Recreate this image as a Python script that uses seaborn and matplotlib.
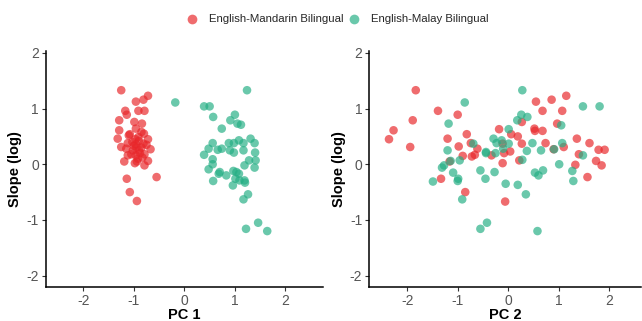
import numpy as np
import pandas as pd
import matplotlib
matplotlib.use("Agg")
import matplotlib.pyplot as plt
import seaborn as sns
from matplotlib.lines import Line2D

groups = ["English-Mandarin Bilingual", "English-Malay Bilingual"]
colors = ["#E8262A", "#24AE84"]

# Panel 1: PC 1 vs slope
pc1_mandarin = [-1.25, -0.72, -0.81, -0.96, -1.17, -1.14, -0.91, -0.79, -1.29, -0.99,
                -0.84, -1.29, -0.96, -1.08, -0.85, -1.32, -0.91, -0.72, -1.12, -1.25,
                -0.96, -0.81, -1.02, -0.90, -0.67, -1.12, -0.96, -0.79, -1.19, -0.94,
                -0.72, -0.79, -1.14, -0.55, -1.08, -0.94,
                -0.90, -1.00, -0.85, -1.05, -0.92, -0.80, -1.15, -0.97, -0.88, -1.03,
                -0.95, -0.83, -1.10, -0.75, -0.98]
slope1_mandarin = [1.33, 1.23, 1.16, 1.125, 0.96, 0.89, 0.96, 0.96, 0.79, 0.76,
                   0.73, 0.61, 0.64, 0.54, 0.58, 0.46, 0.49, 0.45, 0.38, 0.31,
                   0.36, 0.37, 0.25, 0.25, 0.27, 0.16, 0.16, 0.18, 0.05, 0.05,
                   0.06, -0.02, -0.26, -0.23, -0.50, -0.66,
                   0.42, 0.33, 0.30, 0.18, 0.10, 0.55, 0.28, 0.45, 0.20, 0.40,
                   0.30, 0.12, 0.52, 0.35, 0.02]
pc1_malay = [-0.18, 1.24, 0.39, 0.50, 0.57, 1.00, 0.91, 1.05, 1.12, 0.74,
             1.31, 1.08, 0.88, 0.56, 1.39, 1.17, 0.98, 0.48, 0.66, 0.74,
             0.90, 0.98, 1.17, 1.40, 0.39, 0.56, 0.56, 1.28, 1.41, 1.19,
             1.39, 0.48, 0.70, 0.68, 0.83, 0.97, 1.03, 1.08, 1.01, 1.09,
             1.20, 1.19, 0.96, 0.57, 1.26, 1.17, 1.22, 1.46, 1.64]
slope1_malay = [1.11, 1.33, 1.04, 1.04, 0.85, 0.89, 0.79, 0.73, 0.71, 0.64,
                0.46, 0.43, 0.38, 0.38, 0.38, 0.38, 0.38, 0.28, 0.26, 0.28,
                0.25, 0.21, 0.25, 0.21, 0.17, 0.09, 0.00, 0.07, 0.07, -0.02,
                -0.06, -0.09, -0.14, -0.17, -0.20, -0.12, -0.14, -0.17, -0.26, -0.29,
                -0.33, -0.29, -0.38, -0.30, -0.54, -0.63, -1.16, -1.05, -1.20]

# Panel 2: PC 2 vs slope
pc2_mandarin = [-2.36, -2.27, -1.83, -1.89, -1.94, -1.39, -1.33, -1.20, -1.16, -1.00,
                -0.98, -0.90, -0.85, -0.82, -0.74, -0.72, -0.66, -0.61, -0.33, -0.18,
                -0.11, -0.08, -0.11, -0.06, 0.04, 0.06, 0.19, 0.22, 0.27, 0.27,
                0.52, 0.53, 0.55, 0.68, 0.68, 0.74, 0.86, 0.90, 0.97, 1.07,
                1.10, 1.15, 1.33, 1.36, 1.40, 1.57, 1.61, 1.74, 1.79, 1.85, 1.91]
slope2_mandarin = [0.45, 0.61, 1.33, 0.79, 0.31, 0.96, -0.26, 0.46, 0.05, 0.89,
                   0.32, 0.15, -0.50, 0.54, 0.38, 0.14, 0.17, 0.28, 0.16, 0.63,
                   0.37, 0.20, 0.02, -0.67, 0.23, 0.54, 0.50, 0.07, 0.76, 0.37,
                   0.64, 0.60, 1.125, 0.96, 0.60, 0.38, 1.16, 0.27, 0.73, 0.96,
                   0.31, 1.23, -0.01, 0.46, 0.18, -0.23, 0.38, 0.06, 0.26, -0.02, 0.26]
pc2_malay = [0.28, -0.86, 1.48, 1.81, 0.26, 0.38, 0.18, -1.18, 1.05, 0.01,
             -0.29, -0.13, -0.23, -0.69, 0.01, 0.48, 1.07, -1.20, -0.10, 0.65,
             0.37, 0.91, -0.25, -0.44, -0.44, 1.48, 0.28, -0.96, -1.14, 1.01,
             -1.27, -1.31, -0.55, 0.69, -1.09, -0.27, 0.53, 0.60, -0.45, 1.27,
             -0.99, -1.49, -1.00, 1.29, -0.05, 0.19, 0.35, -0.91, -0.42, -0.55, 0.58]
slope2_malay = [1.33, 1.11, 1.04, 1.04, 0.89, 0.85, 0.79, 0.73, 0.70, 0.63,
                0.46, 0.43, 0.38, 0.37, 0.37, 0.38, 0.38, 0.25, 0.28, 0.25,
                0.24, 0.27, 0.20, 0.22, 0.20, 0.16, 0.08, 0.07, 0.06, 0.00,
                -0.02, -0.06, -0.11, -0.11, -0.15, -0.14, -0.15, -0.20, -0.26, -0.12,
                -0.26, -0.31, -0.30, -0.30, -0.35, -0.37, -0.54, -0.63, -1.05, -1.16, -1.20]

y_ticks = [-2, -1, 0, 1, 2]
x_ticks = [-2, -1, 0, 1, 2]

def make_df(xm, ym, xl, yl):
    return pd.concat([
        pd.DataFrame({"x": xm, "y": ym, "group": groups[0]}),
        pd.DataFrame({"x": xl, "y": yl, "group": groups[1]}),
    ], ignore_index=True)

df1 = make_df(pc1_mandarin, slope1_mandarin, pc1_malay, slope1_malay)
df2 = make_df(pc2_mandarin, slope2_mandarin, pc2_malay, slope2_malay)

sns.set_theme(style="white")
plt.rcParams['font.family'] = ['Liberation Sans', 'DejaVu Sans']

fig = plt.figure(figsize=(6.42, 3.21), dpi=100)
H = 321.0
W = 642.0
bottom = 1 - 287.3 / H
top = 1 - 50.7 / H
ax1 = fig.add_axes([45.7 / W, bottom, (323.3 - 45.7) / W, top - bottom])
ax2 = fig.add_axes([369.3 / W, bottom, (641.0 - 369.3) / W, top - bottom])

palette = dict(zip(groups, colors))
for ax, df, xlab, xlim in [(ax1, df1, "PC 1", (-2.745, 2.75)),
                           (ax2, df2, "PC 2", (-2.75, 2.63))]:
    sns.scatterplot(data=df, x="x", y="y", hue="group", palette=palette,
                    s=38, alpha=0.68, linewidth=0, legend=False, ax=ax)
    ax.set_xlim(*xlim)
    ax.set_ylim(-2.21, 2.04)
    ax.set_xticks(x_ticks)
    ax.set_yticks(y_ticks)
    ax.set_xticklabels([str(t) for t in x_ticks])
    ax.set_yticklabels([str(t) for t in y_ticks])
    ax.set_xlabel(xlab, fontsize=10.5, fontweight="bold", color="black", labelpad=0)
    ax.set_ylabel("Slope (log)", fontsize=10.5, fontweight="bold", color="black", labelpad=3)
    for side in ["top", "right"]:
        ax.spines[side].set_visible(False)
    for side in ["left", "bottom"]:
        ax.spines[side].set_color("black")
        ax.spines[side].set_linewidth(1.1)
    ax.tick_params(axis="both", which="major", direction="out", length=3, width=0.8,
                   color="#333333", labelcolor="#555555", labelsize=10, pad=2,
                   bottom=True, left=True)
    ax.grid(False)

handles = [Line2D([0], [0], marker="o", linestyle="", markersize=7,
                  markerfacecolor=c, markeredgewidth=0, alpha=0.68) for c in colors]
fig.legend(handles, groups, loc="center", bbox_to_anchor=(337.5 / W, 1 - 19.5 / H),
           ncol=2, frameon=False, fontsize=8.2, handletextpad=0.96, columnspacing=0.46,
           handlelength=1.0, borderaxespad=0, borderpad=0)

fig.savefig("out.png", dpi=100)
